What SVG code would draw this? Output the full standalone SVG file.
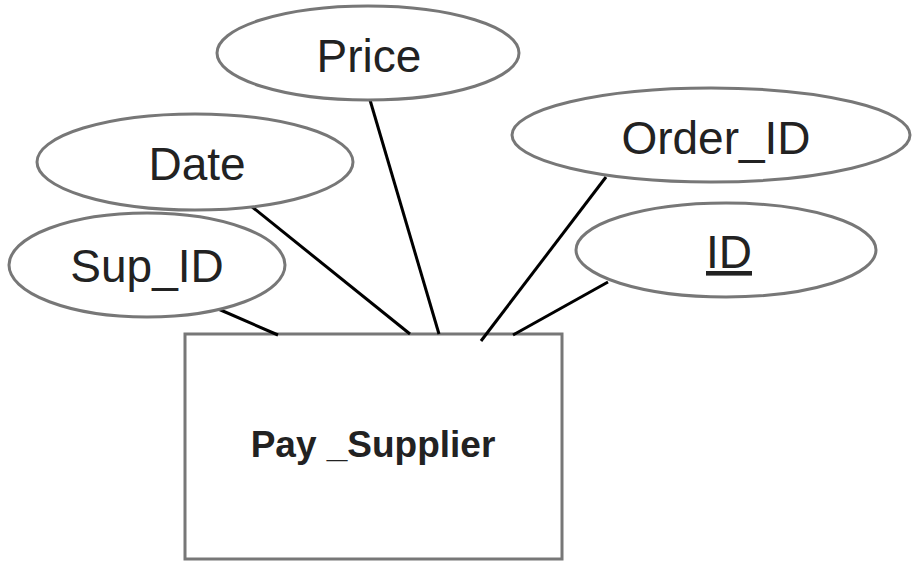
<svg xmlns="http://www.w3.org/2000/svg" width="912" height="563" viewBox="0 0 912 563">
<style>
.attr{fill:#fff;stroke:#777;stroke-width:3}
.ent{fill:#fff;stroke:#777;stroke-width:3}
.lbl{font-family:"Liberation Sans",Arial,sans-serif;font-size:46px;fill:#222;text-anchor:middle}
.elbl{font-family:"Liberation Sans",Arial,sans-serif;font-size:37px;font-weight:bold;fill:#222;text-anchor:middle}
.conn line{stroke:#000;stroke-width:3}
</style>
<rect width="912" height="563" fill="#fff"/>
<g id="pay_supplier">
<rect class="ent" x="185" y="334" width="377" height="225"/>
<text class="elbl" x="373" y="457">Pay _Supplier</text>
</g>
<g class="conn" id="connectors">
<line x1="216" y1="308" x2="278" y2="335"/>
<line x1="251" y1="206" x2="410" y2="334"/>
<line x1="370" y1="100" x2="439" y2="334"/>
<line x1="606" y1="177" x2="481" y2="341"/>
<line x1="608" y1="282" x2="513" y2="335"/>
</g>
<g id="sup_id">
<ellipse class="attr" cx="147" cy="265" rx="138" ry="52"/>
<text class="lbl" x="147" y="282">Sup_ID</text>
</g>
<g id="date">
<ellipse class="attr" cx="195" cy="162" rx="158" ry="48"/>
<text class="lbl" x="197" y="180">Date</text>
</g>
<g id="price">
<ellipse class="attr" cx="368" cy="53" rx="151" ry="47"/>
<text class="lbl" x="369" y="72">Price</text>
</g>
<g id="order_id">
<ellipse class="attr" cx="711" cy="135" rx="199" ry="47"/>
<text class="lbl" x="716" y="154">Order_ID</text>
</g>
<g id="id">
<ellipse class="attr" cx="726" cy="250" rx="150" ry="47"/>
<text class="lbl" x="729" y="268" text-decoration="underline">ID</text>
</g>
</svg>
